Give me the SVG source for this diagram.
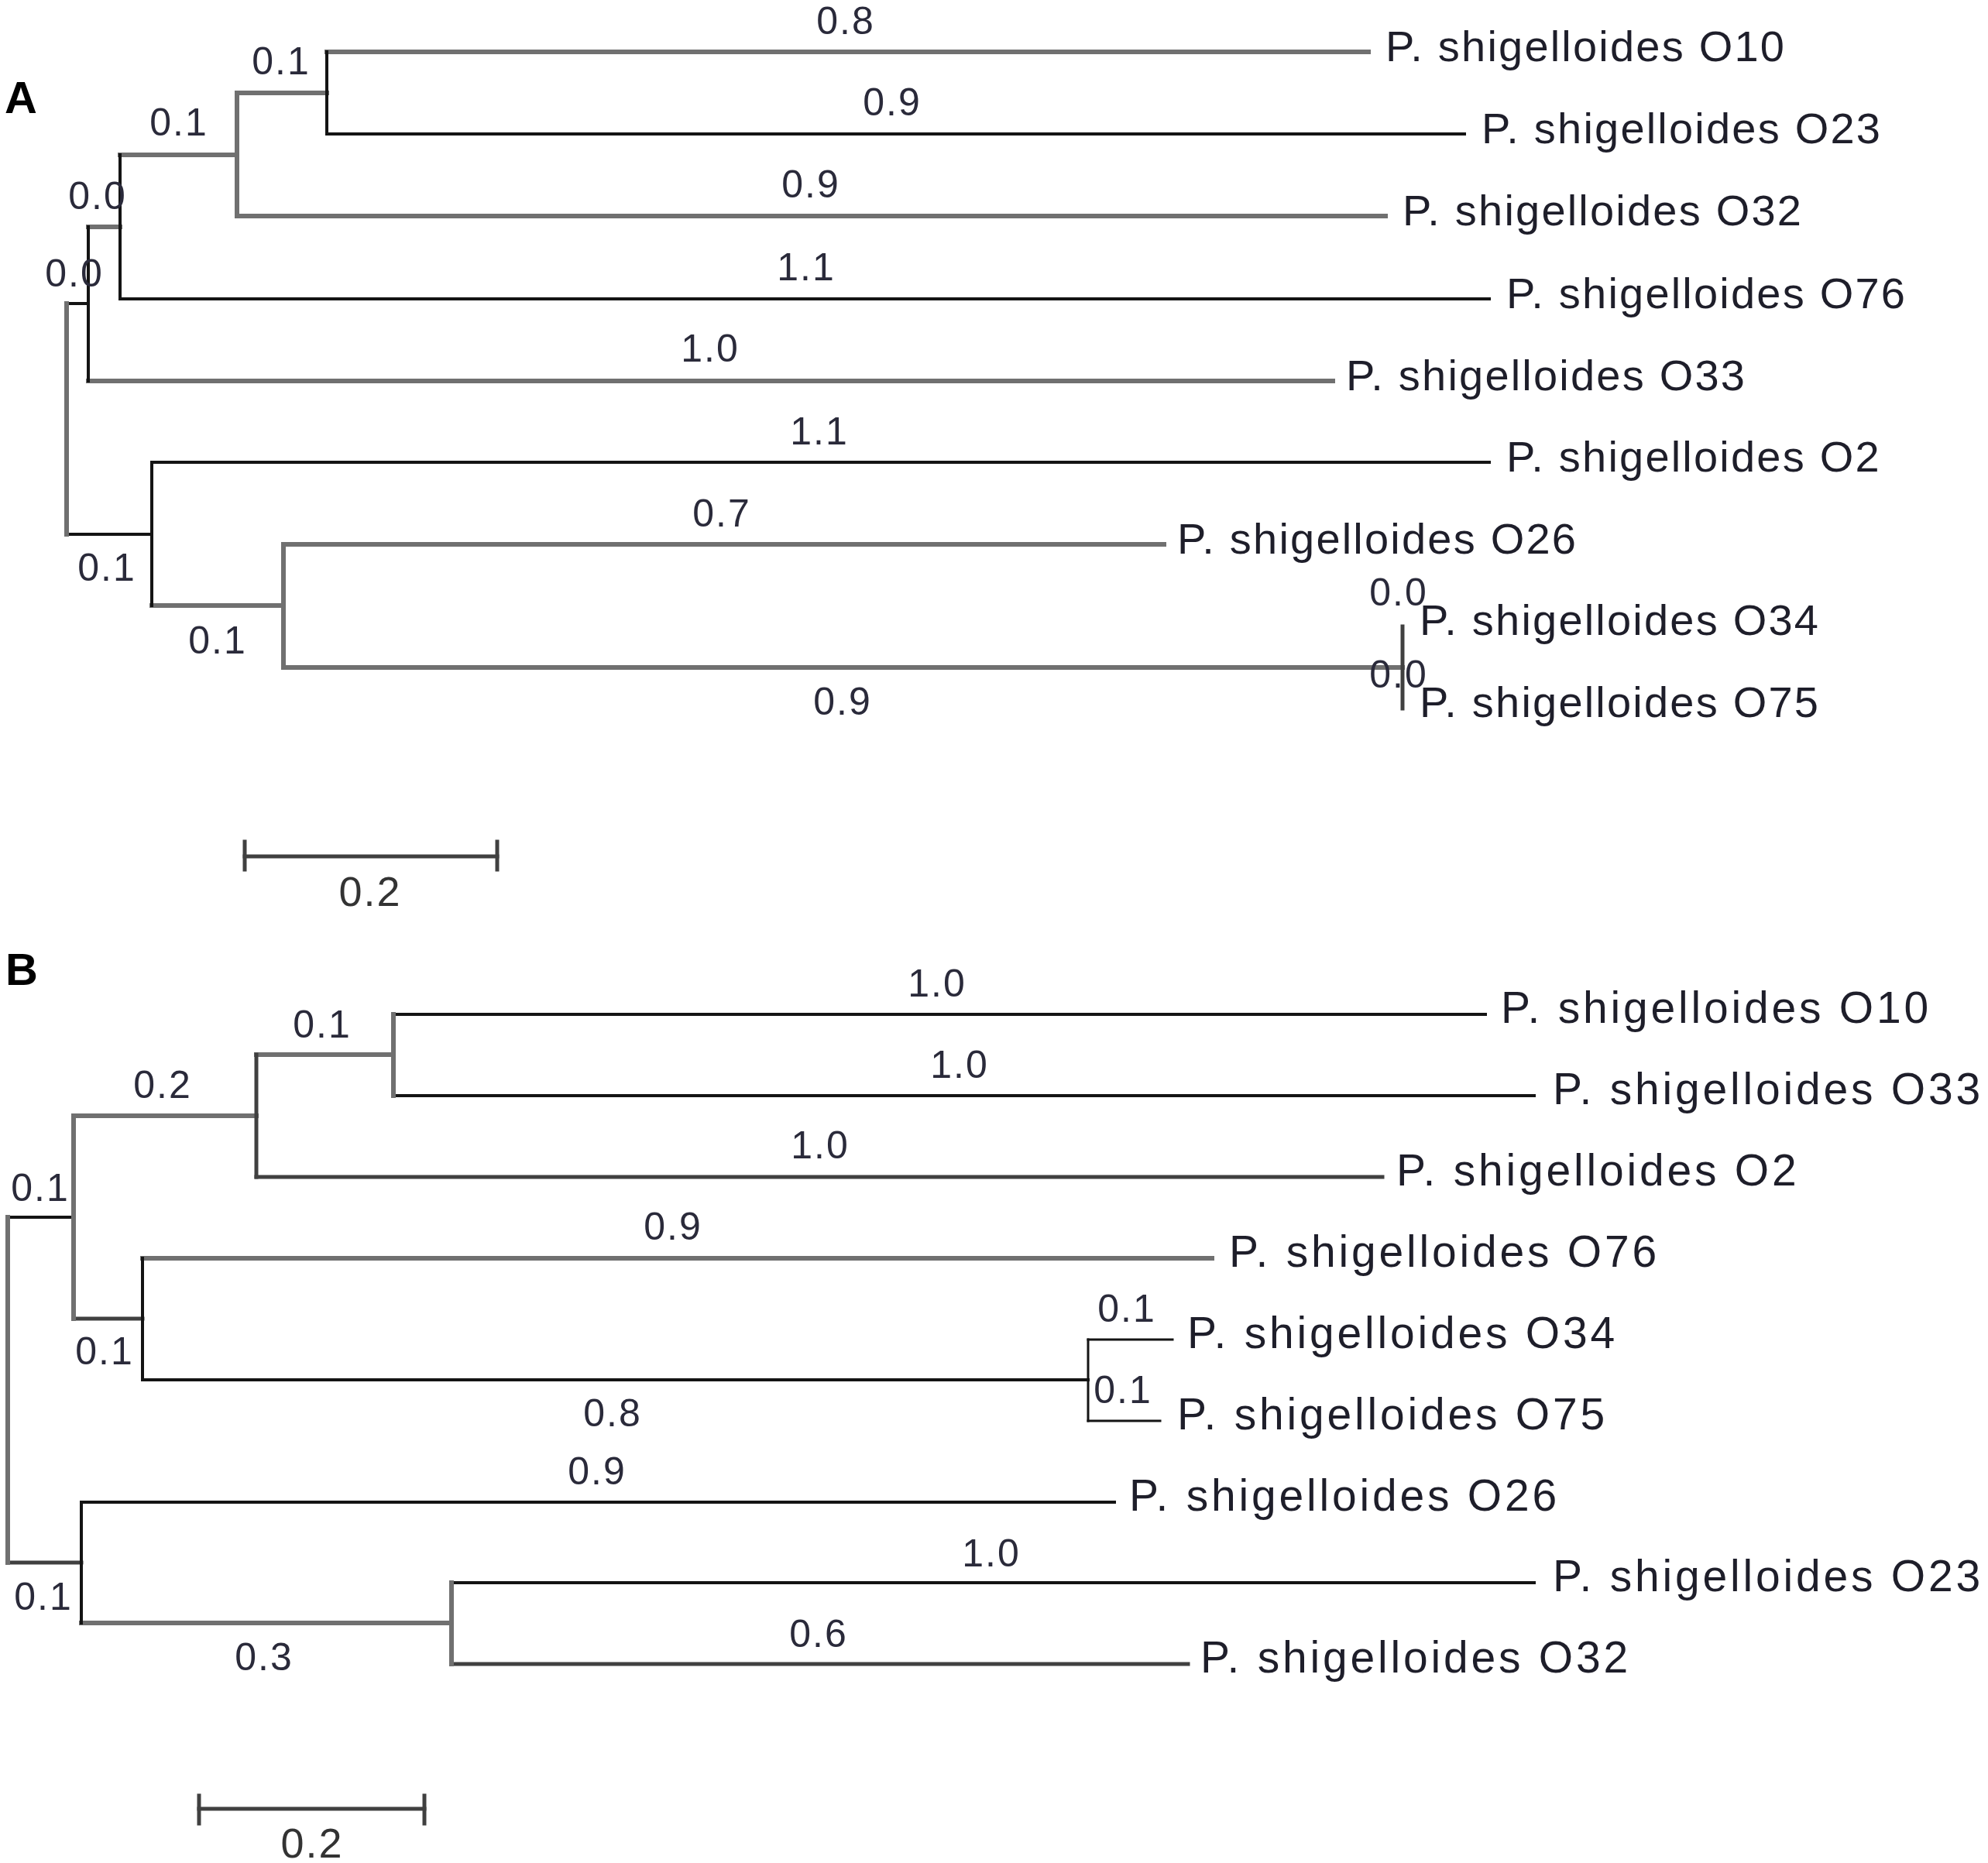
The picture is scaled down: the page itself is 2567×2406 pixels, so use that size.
<svg xmlns="http://www.w3.org/2000/svg" width="2567" height="2406" viewBox="0 0 2567 2406">
<style>
.bg{fill:#ffffff}
.g{stroke:#707070;stroke-width:6;fill:none;stroke-linecap:square}
.k{stroke:#141414;stroke-width:4;fill:none;stroke-linecap:square}
.d{stroke:#404040;stroke-width:5;fill:none;stroke-linecap:square}
.t{stroke:#141414;stroke-width:3;fill:none;stroke-linecap:square}
.sp{font-family:"Liberation Sans",Arial,sans-serif;font-size:56px;letter-spacing:2.2px;fill:#1e1e2a}
.spb{font-family:"Liberation Sans",Arial,sans-serif;font-size:57px;letter-spacing:3.8px;fill:#1e1e2a}
.bl{font-family:"Liberation Sans",Arial,sans-serif;font-size:50px;letter-spacing:2px;fill:#2a2a3a;text-anchor:middle}
.sc{font-family:"Liberation Sans",Arial,sans-serif;font-size:54px;letter-spacing:2px;fill:#333333;text-anchor:middle}
.pl{font-family:"Liberation Sans",Arial,sans-serif;font-size:58px;font-weight:bold;fill:#000000}
</style>
<rect class="bg" x="0" y="0" width="2567" height="2406"/>

<g id="panel-labels">
<text class="pl" x="6" y="146">A</text>
<text class="pl" x="7" y="1272">B</text>
</g>

<g id="connectors">
<!-- Panel A horizontals -->
<line class="g" x1="422" y1="67" x2="1767" y2="67"/>
<line class="k" x1="422" y1="173" x2="1891" y2="173"/>
<line class="g" x1="306" y1="120" x2="422" y2="120"/>
<line class="g" x1="306" y1="279" x2="1789" y2="279"/>
<line class="g" x1="155" y1="200" x2="306" y2="200"/>
<line class="k" x1="155" y1="386" x2="1923" y2="386"/>
<line class="g" x1="114" y1="293" x2="155" y2="293"/>
<line class="g" x1="114" y1="492" x2="1721" y2="492"/>
<line class="k" x1="86" y1="392" x2="114" y2="392"/>
<line class="k" x1="196" y1="597" x2="1923" y2="597"/>
<line class="g" x1="196" y1="782" x2="366" y2="782"/>
<line class="g" x1="366" y1="703" x2="1503" y2="703"/>
<line class="g" x1="366" y1="862" x2="1811" y2="862"/>
<line class="k" x1="86" y1="690" x2="196" y2="690"/>
<!-- Panel A verticals -->
<line class="k" x1="422" y1="67" x2="422" y2="173"/>
<line class="g" x1="306" y1="120" x2="306" y2="279"/>
<line class="k" x1="155" y1="200" x2="155" y2="386"/>
<line class="k" x1="114" y1="293" x2="114" y2="492"/>
<line class="g" x1="86" y1="392" x2="86" y2="690"/>
<line class="k" x1="196" y1="597" x2="196" y2="782"/>
<line class="g" x1="366" y1="703" x2="366" y2="862"/>
<line class="d" x1="1811" y1="809" x2="1811" y2="915"/>

<!-- Panel B horizontals -->
<line class="k" x1="508" y1="1310" x2="1918" y2="1310"/>
<line class="k" x1="508" y1="1415" x2="1981" y2="1415"/>
<line class="g" x1="331" y1="1362" x2="508" y2="1362"/>
<line class="d" x1="331" y1="1520" x2="1785" y2="1520"/>
<line class="g" x1="95" y1="1441" x2="331" y2="1441"/>
<line class="g" x1="184" y1="1625" x2="1565" y2="1625"/>
<line class="t" x1="1405" y1="1730" x2="1514" y2="1730"/>
<line class="t" x1="1405" y1="1835" x2="1498" y2="1835"/>
<line class="k" x1="184" y1="1782" x2="1405" y2="1782"/>
<line class="d" x1="95" y1="1703" x2="184" y2="1703"/>
<line class="k" x1="10" y1="1572" x2="95" y2="1572"/>
<line class="k" x1="105" y1="1940" x2="1439" y2="1940"/>
<line class="k" x1="583" y1="2044" x2="1981" y2="2044"/>
<line class="d" x1="583" y1="2149" x2="1534" y2="2149"/>
<line class="g" x1="105" y1="2096" x2="583" y2="2096"/>
<line class="d" x1="10" y1="2018" x2="105" y2="2018"/>
<!-- Panel B verticals -->
<line class="g" x1="508" y1="1310" x2="508" y2="1415"/>
<line class="d" x1="331" y1="1362" x2="331" y2="1520"/>
<line class="g" x1="95" y1="1441" x2="95" y2="1703"/>
<line class="k" x1="184" y1="1625" x2="184" y2="1782"/>
<line class="t" x1="1405" y1="1730" x2="1405" y2="1835"/>
<line class="k" x1="105" y1="1940" x2="105" y2="2096"/>
<line class="g" x1="583" y1="2044" x2="583" y2="2149"/>
<line class="g" x1="10" y1="1572" x2="10" y2="2018"/>
</g>

<g id="branch-labels">
<text class="bl" x="363" y="96">0.1</text>
<text class="bl" x="231" y="175">0.1</text>
<text class="bl" x="126" y="270">0.0</text>
<text class="bl" x="96" y="370">0.0</text>
<text class="bl" x="1092" y="44">0.8</text>
<text class="bl" x="1152" y="149">0.9</text>
<text class="bl" x="1047" y="255">0.9</text>
<text class="bl" x="1041" y="362">1.1</text>
<text class="bl" x="917" y="467">1.0</text>
<text class="bl" x="1058" y="574">1.1</text>
<text class="bl" x="138" y="750">0.1</text>
<text class="bl" x="932" y="680">0.7</text>
<text class="bl" x="281" y="844">0.1</text>
<text class="bl" x="1088" y="923">0.9</text>
<text class="bl" x="1806" y="782">0.0</text>
<text class="bl" x="1806" y="888">0.0</text>

<text class="bl" x="416" y="1340">0.1</text>
<text class="bl" x="210" y="1418">0.2</text>
<text class="bl" x="52" y="1551">0.1</text>
<text class="bl" x="1210" y="1287">1.0</text>
<text class="bl" x="1239" y="1392">1.0</text>
<text class="bl" x="1059" y="1496">1.0</text>
<text class="bl" x="869" y="1601">0.9</text>
<text class="bl" x="135" y="1762">0.1</text>
<text class="bl" x="791" y="1842">0.8</text>
<text class="bl" x="1455" y="1707">0.1</text>
<text class="bl" x="1450" y="1812">0.1</text>
<text class="bl" x="771" y="1917">0.9</text>
<text class="bl" x="56" y="2079">0.1</text>
<text class="bl" x="1280" y="2023">1.0</text>
<text class="bl" x="341" y="2157">0.3</text>
<text class="bl" x="1057" y="2127">0.6</text>
</g>

<g id="A-O10"><text class="sp" x="1789" y="79">P. shigelloides O10</text></g>
<g id="A-O23"><text class="sp" x="1913" y="185">P. shigelloides O23</text></g>
<g id="A-O32"><text class="sp" x="1811" y="291">P. shigelloides O32</text></g>
<g id="A-O76"><text class="sp" x="1945" y="398">P. shigelloides O76</text></g>
<g id="A-O33"><text class="sp" x="1738" y="504">P. shigelloides O33</text></g>
<g id="A-O2"><text class="sp" x="1945" y="609">P. shigelloides O2</text></g>
<g id="A-O26"><text class="sp" x="1520" y="715">P. shigelloides O26</text></g>
<g id="A-O34"><text class="sp" x="1833" y="820">P. shigelloides O34</text></g>
<g id="A-O75"><text class="sp" x="1833" y="926">P. shigelloides O75</text></g>

<g id="B-O10"><text class="spb" x="1938" y="1321">P. shigelloides O10</text></g>
<g id="B-O33"><text class="spb" x="2005" y="1426">P. shigelloides O33</text></g>
<g id="B-O2"><text class="spb" x="1803" y="1531">P. shigelloides O2</text></g>
<g id="B-O76"><text class="spb" x="1587" y="1636">P. shigelloides O76</text></g>
<g id="B-O34"><text class="spb" x="1533" y="1741">P. shigelloides O34</text></g>
<g id="B-O75"><text class="spb" x="1520" y="1846">P. shigelloides O75</text></g>
<g id="B-O26"><text class="spb" x="1458" y="1951">P. shigelloides O26</text></g>
<g id="B-O23"><text class="spb" x="2005" y="2055">P. shigelloides O23</text></g>
<g id="B-O32"><text class="spb" x="1550" y="2160">P. shigelloides O32</text></g>

<g id="scale-A">
<line class="d" x1="316" y1="1106" x2="642" y2="1106"/>
<line class="d" x1="316" y1="1087" x2="316" y2="1123"/>
<line class="d" x1="642" y1="1087" x2="642" y2="1123"/>
<text class="sc" x="478" y="1170">0.2</text>
</g>
<g id="scale-B">
<line class="d" x1="257" y1="2336" x2="548" y2="2336"/>
<line class="d" x1="257" y1="2319" x2="257" y2="2355"/>
<line class="d" x1="548" y1="2319" x2="548" y2="2355"/>
<text class="sc" x="403" y="2399">0.2</text>
</g>
</svg>
